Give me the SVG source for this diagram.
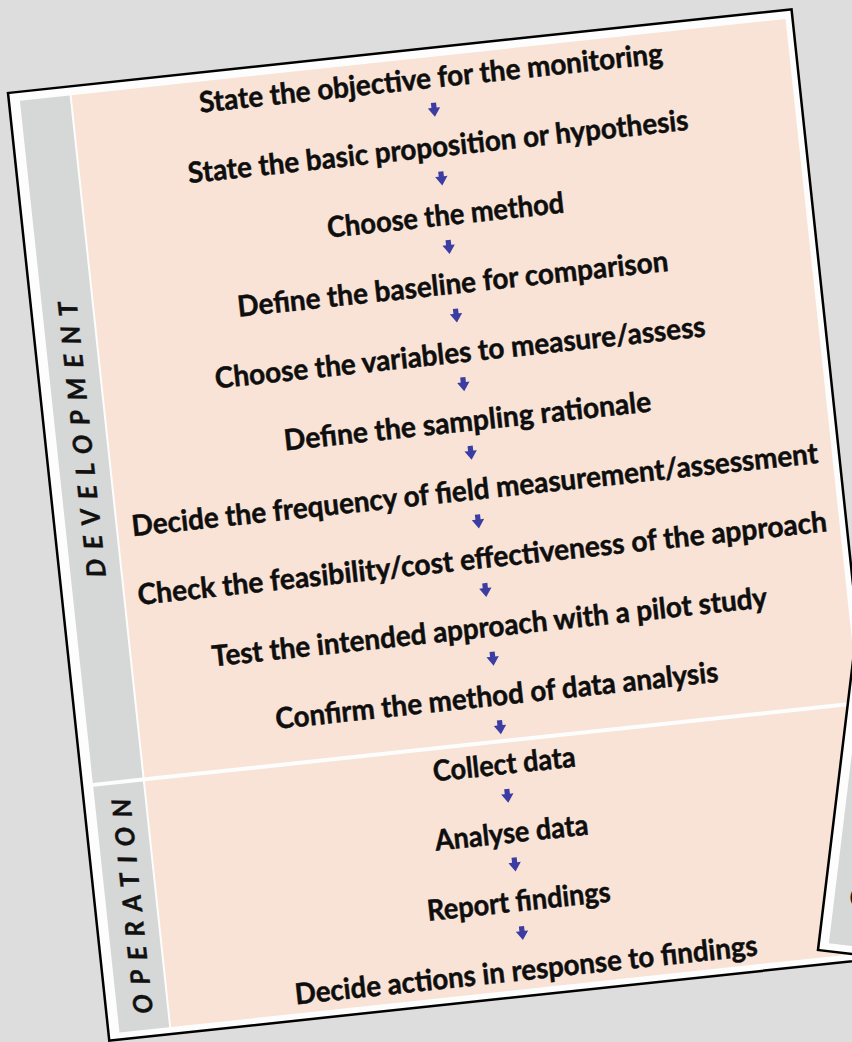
<svg xmlns="http://www.w3.org/2000/svg" width="852" height="1042" viewBox="0 0 852 1042">
  <defs>
    <style>
      .step { font-family: Lato, "Liberation Sans", sans-serif; font-weight: bold; font-size: 29px; fill: #0e0e0e; stroke: #0e0e0e; stroke-width: 0.5px; text-anchor: middle; }
      .side { font-family: Lato, "Liberation Sans", sans-serif; font-weight: bold; font-style: italic; font-size: 26px; fill: #111111; stroke: #111111; stroke-width: 0.4px; text-anchor: middle; }
      .gray { fill: #d6d7d7; }
      .peach { fill: #f8e3d6; }
      .frame { fill: #fdfdfd; stroke: #000000; stroke-width: 2.5; }
      .arrow { fill: #3b3da3; }
    </style>
    <path id="arr" d="M-2.6,-7 H2.6 V-2 H6.2 L0,7 L-6.2,-2 H-2.6 Z"/>
  </defs>
  <rect x="0" y="0" width="852" height="1042" fill="#dddddd"/>

  <g id="card" transform="translate(8,93) rotate(-6.1)">
    <rect class="frame" x="0" y="0" width="788" height="953"/>
    <rect class="gray" x="11" y="9" width="50" height="686"/>
    <rect class="gray" x="11" y="699" width="50" height="247"/>
    <rect class="peach" x="63" y="9" width="718" height="686"/>
    <rect class="peach" x="63" y="699" width="718" height="247"/>

    <g id="lane-development">
      <text class="side" transform="translate(46,352.5) rotate(-90)" x="0" y="0" textLength="277" lengthAdjust="spacing">DEVELOPMENT</text>
    </g>
    <g id="lane-operation">
      <text class="side" transform="translate(46.5,822) rotate(-90)" x="0" y="0" textLength="216" lengthAdjust="spacing">OPERATION</text>
    </g>

    <g id="n1"><text class="step" x="422" y="40" textLength="466" lengthAdjust="spacingAndGlyphs">State the objective for the monitoring</text></g>
    <g id="n2"><text class="step" x="422" y="109" textLength="503" lengthAdjust="spacingAndGlyphs">State the basic proposition or hypothesis</text></g>
    <g id="n3"><text class="step" x="422" y="178" textLength="238" lengthAdjust="spacingAndGlyphs">Choose the method</text></g>
    <g id="n4"><text class="step" x="422" y="247" textLength="433" lengthAdjust="spacingAndGlyphs">Define the baseline for comparison</text></g>
    <g id="n5"><text class="step" x="422" y="316" textLength="493" lengthAdjust="spacingAndGlyphs">Choose the variables to measure/assess</text></g>
    <g id="n6"><text class="step" x="422" y="385" textLength="369" lengthAdjust="spacingAndGlyphs">Define the sampling rationale</text></g>
    <g id="n7"><text class="step" x="422" y="454" textLength="690" lengthAdjust="spacingAndGlyphs">Decide the frequency of field measurement/assessment</text></g>
    <g id="n8"><text class="step" x="422" y="523" textLength="693" lengthAdjust="spacingAndGlyphs">Check the feasibility/cost effectiveness of the approach</text></g>
    <g id="n9"><text class="step" x="422" y="592" textLength="558" lengthAdjust="spacingAndGlyphs">Test the intended approach with a pilot study</text></g>
    <g id="n10"><text class="step" x="422" y="661" textLength="445" lengthAdjust="spacingAndGlyphs">Confirm the method of data analysis</text></g>
    <g id="n11"><text class="step" x="422" y="730" textLength="143" lengthAdjust="spacingAndGlyphs">Collect data</text></g>
    <g id="n12"><text class="step" x="422" y="799" textLength="154" lengthAdjust="spacingAndGlyphs">Analyse data</text></g>
    <g id="n13"><text class="step" x="422" y="868" textLength="184" lengthAdjust="spacingAndGlyphs">Report findings</text></g>
    <g id="n14"><text class="step" x="422" y="937" textLength="465" lengthAdjust="spacingAndGlyphs">Decide actions in response to findings</text></g>

    <g id="connectors" class="arrow">
      <use href="#arr" x="422" y="62"/>
      <use href="#arr" x="422" y="131"/>
      <use href="#arr" x="422" y="200"/>
      <use href="#arr" x="422" y="269"/>
      <use href="#arr" x="422" y="338"/>
      <use href="#arr" x="422" y="407"/>
      <use href="#arr" x="422" y="476"/>
      <use href="#arr" x="422" y="545"/>
      <use href="#arr" x="422" y="614"/>
      <use href="#arr" x="422" y="683"/>
      <use href="#arr" x="422" y="752"/>
      <use href="#arr" x="422" y="821"/>
      <use href="#arr" x="422" y="890"/>
    </g>
  </g>

  <g id="card-behind" transform="translate(818,950) rotate(6.9)">
    <rect class="frame" x="0" y="-900" width="400" height="900"/>
    <rect class="gray" x="10" y="-892" width="380" height="884"/>
    <text class="step" x="25" y="-47" style="text-anchor:start">C</text>
  </g>
</svg>
